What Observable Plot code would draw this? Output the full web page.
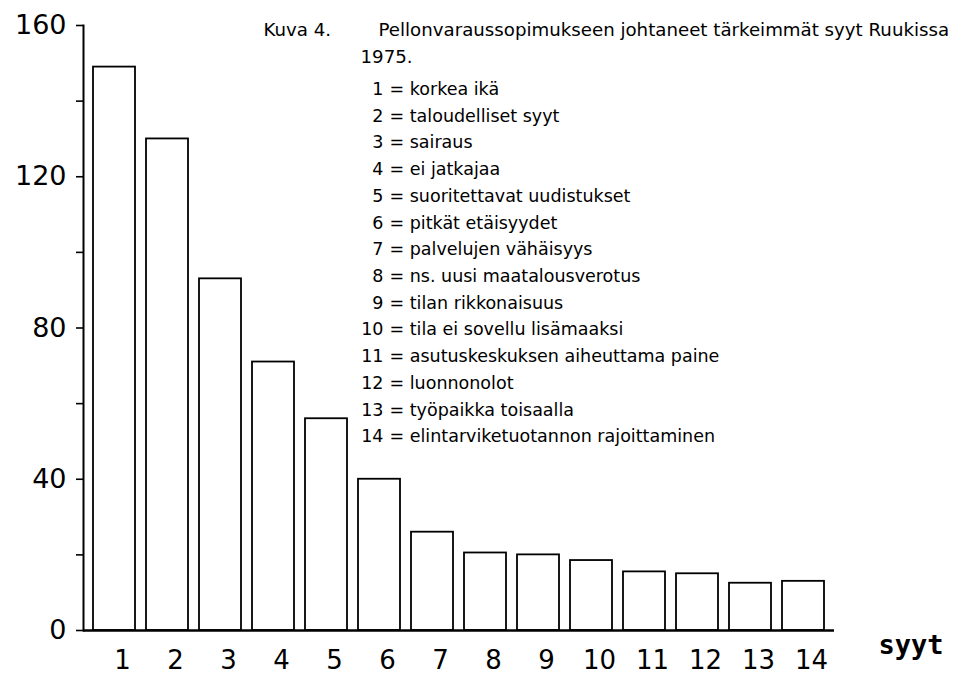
<!DOCTYPE html>
<html>
<head>
<meta charset="utf-8">
<script src="https://cdn.jsdelivr.net/npm/d3@7"></script>
<script src="https://cdn.jsdelivr.net/npm/@observablehq/plot@0.6"></script>
<style>
  html, body { margin: 0; padding: 0; background: #fff; }
  #chart svg { display: block; }
</style>
</head>
<body>
<div id="chart"></div>
<script>
// ---- data ----
const categories = ["1","2","3","4","5","6","7","8","9","10","11","12","13","14"];
const counts = [149, 130, 93, 71, 56, 40, 26, 20.5, 20, 18.5, 15.5, 15, 12.5, 13];
const reasons = [
  "korkea ikä",
  "taloudelliset syyt",
  "sairaus",
  "ei jatkajaa",
  "suoritettavat uudistukset",
  "pitkät etäisyydet",
  "palvelujen vähäisyys",
  "ns. uusi maatalousverotus",
  "tilan rikkonaisuus",
  "tila ei sovellu lisämaaksi",
  "asutuskeskuksen aiheuttama paine",
  "luonnonolot",
  "työpaikka toisaalla",
  "elintarviketuotannon rajoittaminen"
];
const yTicks = [0, 40, 80, 120, 160];
const yMinorTicks = [20, 60, 100, 140];
const titleFigure = "Kuva 4.";
const titleText = "Pellonvaraussopimukseen johtaneet tärkeimmät syyt Ruukissa";
const titleYear = "1975.";
const axisName = "syyt";

const data = categories.map((c, i) => ({syy: c, count: counts[i]}));

const font = "DejaVu Sans";
const small = 17.5;
const titleSize = 18.2;
const lh = 1.526;

const chart = Plot.plot({
  width: 958,
  height: 676,
  marginLeft: 83,
  marginRight: 124,
  marginTop: 25,
  marginBottom: 46,
  style: {fontFamily: font, background: "#fff", color: "#000", overflow: "visible"},
  x: {domain: categories, paddingInner: 0.2, paddingOuter: 0.15},
  y: {domain: [0, 160]},
  marks: [
    Plot.barY(data, {x: "syy", y: "count", fill: "white", stroke: "black", strokeWidth: 1.8}),
    Plot.ruleY([0], {stroke: "black", strokeWidth: 2.6}),
    Plot.frame({anchor: "left", stroke: "black", strokeWidth: 2}),
    Plot.axisY(yTicks, {label: null, tickSize: 7, tickPadding: 10, fontSize: 27, strokeWidth: 1.6}),
    Plot.axisY(yMinorTicks, {label: null, tickSize: 7, tickFormat: () => "", strokeWidth: 1.6}),
    Plot.axisX({label: null, tickSize: 0, tickPadding: 20, fontSize: 26, dx: 8}),
    Plot.text([axisName], {text: d => d, frameAnchor: "bottom-right", textAnchor: "start", lineAnchor: "bottom",
      dx: 44, dy: 23, fontFamily: "DejaVu Sans Mono", fontWeight: "bold", fontSize: 27}),
    Plot.text([titleFigure], {text: d => d, frameAnchor: "top-left", textAnchor: "start", lineAnchor: "top",
      dx: 180, dy: -2, fontSize: titleSize}),
    Plot.text([titleText], {text: d => d, frameAnchor: "top-left", textAnchor: "start", lineAnchor: "top",
      dx: 295, dy: -2, fontSize: titleSize}),
    Plot.text([titleYear], {text: d => d, frameAnchor: "top-left", textAnchor: "start", lineAnchor: "top",
      dx: 277, dy: 25, fontSize: titleSize}),
    Plot.text([categories.join("\n")], {text: d => d, frameAnchor: "top-left", textAnchor: "end", lineAnchor: "top",
      dx: 300, dy: 50.6, fontSize: small, lineHeight: lh}),
    Plot.text([reasons.map(r => "= " + r).join("\n")], {text: d => d, frameAnchor: "top-left", textAnchor: "start", lineAnchor: "top",
      dx: 306, dy: 50.6, fontSize: small, lineHeight: lh})
  ]
});
document.getElementById("chart").appendChild(chart);
</script>
</body>
</html>
